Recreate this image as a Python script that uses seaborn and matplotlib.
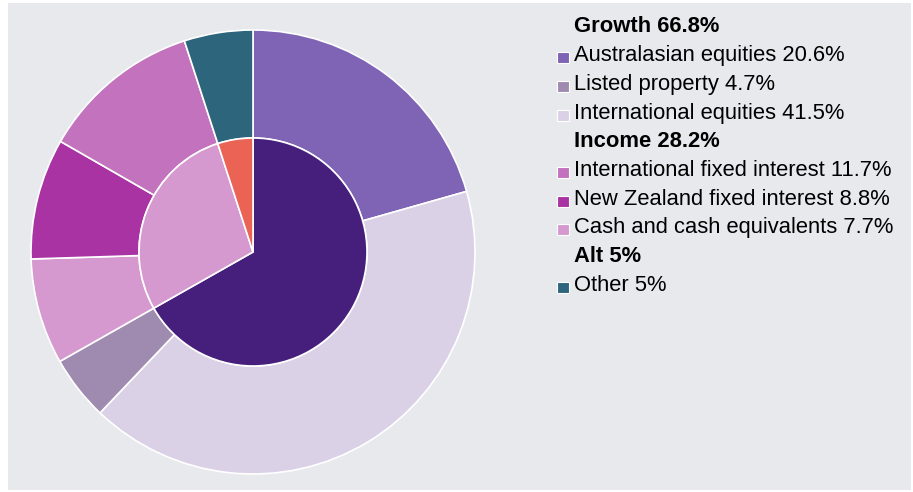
import matplotlib
matplotlib.use("Agg")
import matplotlib.pyplot as plt
from matplotlib.patches import Rectangle
import seaborn as sns

# ---- data ----
outer_labels = ["Australasian equities", "International equities", "Listed property",
                "Cash and cash equivalents", "New Zealand fixed interest",
                "International fixed interest", "Other"]
outer_values = [20.6, 41.5, 4.7, 7.7, 8.8, 11.7, 5.0]
outer_colors = ["#7f63b4", "#dad1e6", "#a08bb0", "#d599cf", "#aa33a3", "#c372bd", "#2d657c"]

inner_labels = ["Growth", "Income", "Alt"]
inner_values = [66.8, 28.2, 5.0]
inner_colors = ["#461f7d", "#d599cf", "#eb6354"]

legend_groups = ["Growth 66.8%", "Income 28.2%", "Alt 5%"]
legend_items = [
    [("Australasian equities 20.6%", "#7f63b4"),
     ("Listed property 4.7%", "#a08bb0"),
     ("International equities 41.5%", "#dad1e6")],
    [("International fixed interest 11.7%", "#c372bd"),
     ("New Zealand fixed interest 8.8%", "#aa33a3"),
     ("Cash and cash equivalents 7.7%", "#d599cf")],
    [("Other 5%", "#2d657c")],
]

sns.set_theme(style="white")
plt.rcParams["font.family"] = ["Liberation Sans", "DejaVu Sans"]

W, H = 913, 492
fig = plt.figure(figsize=(W / 100, H / 100), dpi=100)
fig.patch.set_facecolor("white")
bg = "#e8e9ed"
fig.patches.append(Rectangle((8 / W, 2 / H), (911 - 8) / W, (489 - 2) / H,
                             transform=fig.transFigure, facecolor=bg,
                             edgecolor="none", zorder=-10))

cx, cy, R = 253, 252, 222
pad = 1.04
side = 2 * pad * R
ax = fig.add_axes([(cx - pad * R) / W, (H - cy - pad * R) / H, side / W, side / H])
ax.set_facecolor("none")
ax.patch.set_alpha(0)

r_in = 114 / R
ax.pie(outer_values, colors=sns.color_palette(outer_colors), radius=1.0,
       startangle=90, counterclock=False,
       wedgeprops=dict(width=1 - r_in, edgecolor="white", linewidth=1.2))
ax.pie(inner_values, colors=sns.color_palette(inner_colors), radius=r_in,
       startangle=90, counterclock=False,
       wedgeprops=dict(edgecolor="white", linewidth=1.2))
ax.set_xlim(-pad, pad)
ax.set_ylim(-pad, pad)
ax.set_aspect("equal")
ax.axis("off")

# ---- legend ----
text_x = 574
sq_x0, sq = 557, 12
y = 27
step = 28.7
fs = 15.8
for g, items in zip(legend_groups, legend_items):
    fig.text(text_x / W, 1 - y / H, g, fontsize=fs, fontweight="bold",
             color="black", va="center", ha="left")
    y += step
    for lab, col in items:
        fig.patches.append(Rectangle((sq_x0 / W, 1 - (y + 1.5 + sq / 2) / H), sq / W, (sq - 1) / H,
                                     transform=fig.transFigure, facecolor=col,
                                     edgecolor="white", linewidth=0.8))
        fig.text(text_x / W, 1 - y / H, lab, fontsize=fs, color="black",
                 va="center", ha="left")
        y += step

fig.savefig("out.png", dpi=100, facecolor=fig.get_facecolor())
